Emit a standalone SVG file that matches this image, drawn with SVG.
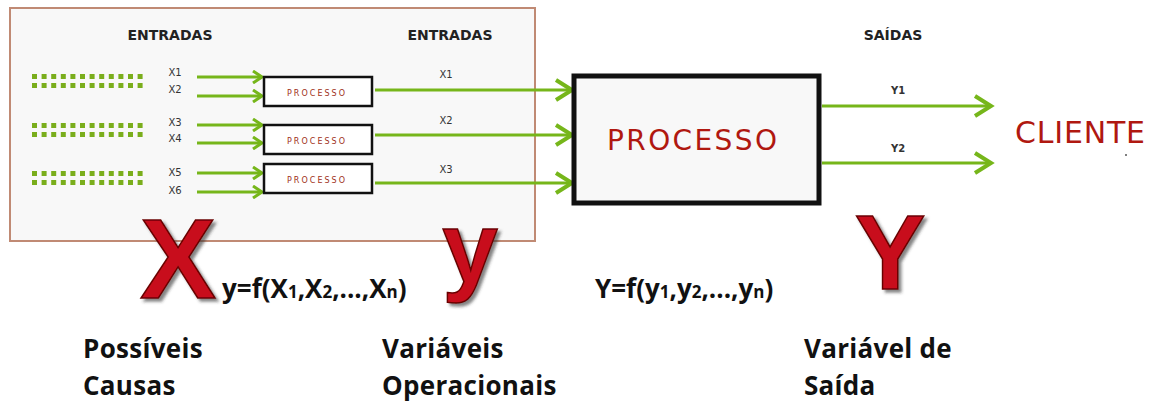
<svg xmlns="http://www.w3.org/2000/svg" width="1156" height="405" viewBox="0 0 1156 405">
<defs>
<style>
.hdr{font-family:"DejaVu Sans",Verdana,sans-serif;font-weight:bold;font-size:14px;fill:#222;text-anchor:middle}
.lbl{font-family:"DejaVu Sans",Verdana,sans-serif;font-size:10px;fill:#333;text-anchor:middle}
.sp{font-family:"DejaVu Sans",Verdana,sans-serif;font-size:8px;fill:#a03020;text-anchor:middle}
.red{font-family:"DejaVu Sans",Verdana,sans-serif;fill:#b01810;text-anchor:middle}
.big{font-family:"Liberation Sans",Arial,sans-serif;font-weight:bold;text-anchor:middle;fill:#c8101a;stroke:#6a0000;stroke-width:1.5;filter:url(#sh)}
.form{font-family:"Open Sans",sans-serif;font-weight:bold;font-size:26px;fill:#111}
.cap{font-family:"Open Sans",sans-serif;font-weight:bold;font-size:26px;fill:#111;letter-spacing:0.3px}
.ln{stroke:#76b61a;stroke-width:3;fill:none}
.box{fill:#fff;stroke:#111;stroke-width:2.5}
.dr{stroke:#7aae1c;stroke-width:5;stroke-dasharray:5 4.6;fill:none}
</style>
<filter id="sh" x="-20%" y="-20%" width="150%" height="150%">
<feDropShadow dx="3" dy="3" stdDeviation="1.5" flood-color="#333" flood-opacity="0.6"/>
</filter>
<marker id="ah" markerWidth="14" markerHeight="14" refX="11" refY="7" orient="auto" markerUnits="userSpaceOnUse">
<path d="M2,1 L11,7 L2,13" fill="none" stroke="#76b61a" stroke-width="3"/>
</marker>
<marker id="ahb" markerWidth="24" markerHeight="24" refX="20" refY="12" orient="auto" markerUnits="userSpaceOnUse">
<path d="M4,2 L20,12 L4,22" fill="none" stroke="#76b61a" stroke-width="4"/>
</marker>
</defs>
<rect width="1156" height="405" fill="#fff"/>

<g id="frame">
<rect x="10" y="8" width="525" height="233" fill="#f8f8f8" stroke="#c08a74" stroke-width="2"/>
</g>

<g id="headers">
<text class="hdr" x="170" y="40">ENTRADAS</text>
<text class="hdr" x="450" y="40">ENTRADAS</text>
<text class="hdr" x="893" y="40">SAÍDAS</text>
</g>

<g id="dotrows">
<g id="dr1"><path class="dr" d="M32,76.5 H147 M32,85.5 H147"/></g>
<g id="dr2"><path class="dr" d="M32,125.5 H147 M32,134.5 H147"/></g>
<g id="dr3"><path class="dr" d="M32,173.5 H147 M32,182.5 H147"/></g>
</g>

<g id="xlabels">
<text class="lbl" x="175" y="76">X1</text>
<text class="lbl" x="175" y="93">X2</text>
<text class="lbl" x="175" y="126">X3</text>
<text class="lbl" x="175" y="142">X4</text>
<text class="lbl" x="175" y="176">X5</text>
<text class="lbl" x="175" y="194">X6</text>
<text class="lbl" x="446" y="78">X1</text>
<text class="lbl" x="446" y="124">X2</text>
<text class="lbl" x="446" y="173">X3</text>
<text class="lbl" x="898" y="94" font-weight="bold">Y1</text>
<text class="lbl" x="898" y="152" font-weight="bold">Y2</text>
</g>

<g id="connectors">
<path class="ln" d="M197,77 H262" marker-end="url(#ah)"/>
<path class="ln" d="M197,96 H262" marker-end="url(#ah)"/>
<path class="ln" d="M197,125 H262" marker-end="url(#ah)"/>
<path class="ln" d="M197,143 H262" marker-end="url(#ah)"/>
<path class="ln" d="M197,173 H262" marker-end="url(#ah)"/>
<path class="ln" d="M197,192 H262" marker-end="url(#ah)"/>
<path class="ln" d="M375,90 H572" stroke-width="4" marker-end="url(#ahb)"/>
<path class="ln" d="M375,135 H572" stroke-width="4" marker-end="url(#ahb)"/>
<path class="ln" d="M375,183 H572" stroke-width="4" marker-end="url(#ahb)"/>
<path class="ln" d="M822,106 H991" stroke-width="4" marker-end="url(#ahb)"/>
<path class="ln" d="M822,163 H991" stroke-width="4" marker-end="url(#ahb)"/>
</g>

<g id="p1">
<rect class="box" x="264" y="77" width="108" height="29"/>
<text class="sp" x="316" y="96" textLength="58" lengthAdjust="spacing">PROCESSO</text>
</g>
<g id="p2">
<rect class="box" x="264" y="125" width="108" height="29"/>
<text class="sp" x="316" y="144" textLength="58" lengthAdjust="spacing">PROCESSO</text>
</g>
<g id="p3">
<rect class="box" x="264" y="164" width="108" height="29"/>
<text class="sp" x="316" y="183" textLength="58" lengthAdjust="spacing">PROCESSO</text>
</g>

<g id="main">
<rect x="574" y="76" width="245" height="127" fill="#f8f8f8" stroke="#111" stroke-width="5"/>
<text class="red" x="692" y="150" font-size="28" textLength="170" lengthAdjust="spacing">PROCESSO</text>
</g>

<g id="cliente">
<text class="red" x="1080" y="143" font-size="30" textLength="130" lengthAdjust="spacing">CLIENTE</text>
<circle cx="1126" cy="155" r="1" fill="#555"/>
</g>

<g id="bigX"><text class="big" x="178" y="298" font-size="114">X</text></g>
<g id="bigy"><text class="big" x="470" y="282" font-size="100">y</text></g>
<g id="bigY"><text class="big" x="890" y="289" font-size="106">Y</text></g>

<g id="formulas">
<text class="form" x="222" y="298">y=f(X<tspan font-size="17">1</tspan>,X<tspan font-size="17">2</tspan>,...,X<tspan font-size="17">n</tspan>)</text>
<text class="form" x="595" y="298">Y=f(y<tspan font-size="17">1</tspan>,y<tspan font-size="17">2</tspan>,...,y<tspan font-size="17">n</tspan>)</text>
</g>

<g id="captions">
<text class="cap" x="83" y="358">Possíveis</text>
<text class="cap" x="83" y="395">Causas</text>
<text class="cap" x="382" y="358">Variáveis</text>
<text class="cap" x="382" y="395">Operacionais</text>
<text class="cap" x="804" y="358">Variável de</text>
<text class="cap" x="804" y="395">Saída</text>
</g>
</svg>
